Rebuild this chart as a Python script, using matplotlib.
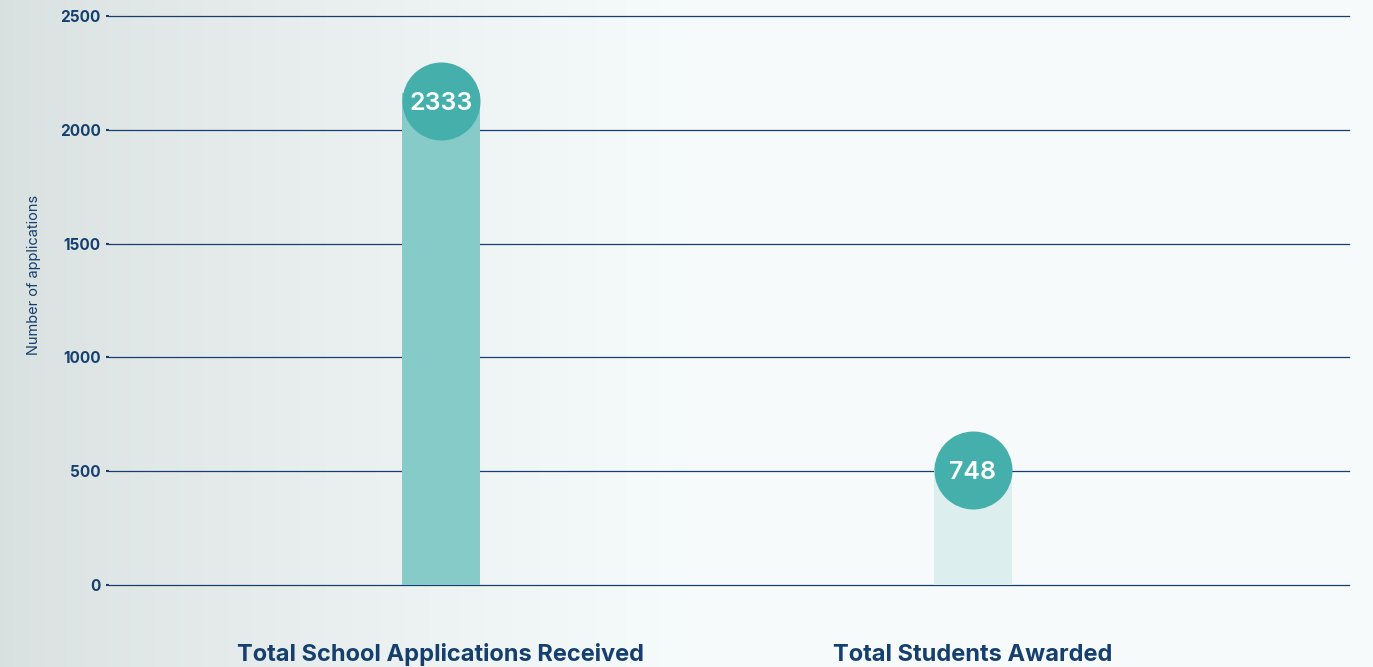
import matplotlib.pyplot as plt
import matplotlib.transforms as mtransforms
import numpy as np

categories = ['Total School Applications Received', 'Total Students Awarded']
values = [2333, 748]
# heights as the bars are drawn in the picture
bar_heights = [2162, 540]
y_ticks = [0, 500, 1000, 1500, 2000, 2500]

navy = '#143f6e'
bar_colors = ['#86cbc7', '#dcefee']
circle_color = '#45b0ab'
font = 'Inter'

fig = plt.figure(figsize=(13.73, 6.67), dpi=100)

# background gradient
bg = fig.add_axes([0, 0, 1, 1], zorder=-10)
x = np.linspace(0, 1, 600)
t = np.clip(x / 0.5, 0, 1) ** 0.8
left = np.array([0.851, 0.878, 0.878])
right = np.array([0.965, 0.984, 0.984])
grad = left[None, :] * (1 - t[:, None]) + right[None, :] * t[:, None]
bg.imshow(grad[None, :, :], aspect='auto', extent=[0, 1, 0, 1])
bg.set_axis_off()

ax = fig.add_axes([109 / 1373, 1 - 585 / 667, 1240 / 1373, 569 / 667])
ax.patch.set_alpha(0)

pos = np.arange(len(categories))
ax.bar(pos, bar_heights, width=0.148, color=bar_colors, zorder=3)

ax.set_xlim(-0.624, 1.707)
ax.set_ylim(0, 2500)
ax.set_yticks(y_ticks)
ax.set_yticklabels([str(v) for v in y_ticks], fontsize=11, fontweight='bold',
                   color=navy, family=font)
ax.tick_params(axis='y', length=2, width=1.5, color=navy, pad=4)
for v in y_ticks:
    ax.axhline(v, color=navy, lw=0.9, zorder=1, clip_on=False)
for s in ax.spines.values():
    s.set_visible(False)
ax.set_xticks([])

ax.set_ylabel('Number of applications', fontsize=10.5, color=navy, family=font)
ax.yaxis.set_label_coords(-0.055, 0.545)

offset = mtransforms.offset_copy(ax.transData, fig=fig, x=0, y=-8, units='dots')
for p, h, v in zip(pos, bar_heights, values):
    ax.scatter([p], [h], s=(39 * 72 / 100 * 2) ** 2, color=circle_color,
               transform=offset, zorder=4, linewidths=0)
    ax.text(p, h, str(v), transform=offset, ha='center', va='center_baseline',
            fontsize=18, color='white', fontweight='semibold', family=font, zorder=5)
    ax.text(p, -0.123, categories[p], transform=ax.get_xaxis_transform(),
            ha='center', va='center', fontsize=17, fontweight='bold',
            color=navy, family=font)

fig.savefig('out.png', dpi=100)
